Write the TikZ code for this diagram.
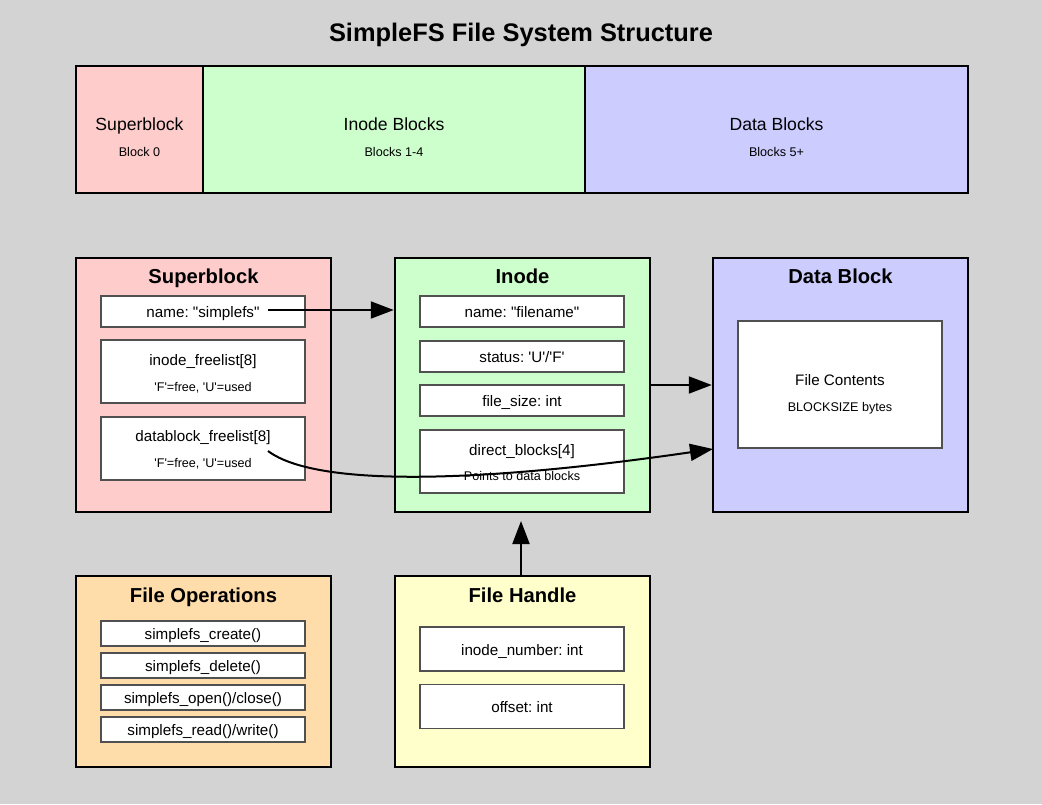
\documentclass[tikz,border=0pt]{standalone}
\usepackage{fontspec}
\setmainfont{Liberation Sans}[Ligatures=TeXOff]
\usetikzlibrary{arrows.meta}
\definecolor{bgc}{HTML}{D3D3D3}
\definecolor{pinkc}{HTML}{FFCCCC}
\definecolor{greenc}{HTML}{CCFFCC}
\definecolor{bluec}{HTML}{CCCCFF}
\definecolor{peachc}{HTML}{FFDDAA}
\definecolor{yellowc}{HTML}{FFFFCC}
\definecolor{fieldline}{HTML}{505050}
\frenchspacing
\begin{document}
\begin{tikzpicture}[x=1pt,y=-1pt,
  outer/.style={draw=black, line width=2.5pt, inner sep=0pt},
  field/.style={draw=fieldline, fill=white, line width=1.5pt, inner sep=0pt, minimum width=204pt},
  ttl/.style={font=\bfseries\fontsize{20.2}{24}\selectfont, inner sep=0pt, anchor=base, yshift=-7.2pt},
  maintitle/.style={font=\bfseries\fontsize{25.4}{30}\selectfont, inner sep=0pt, anchor=base, yshift=-9pt},
  toplbl/.style={font=\fontsize{17.6}{20}\selectfont, inner sep=0pt, anchor=base, yshift=-6.3pt},
  lbl/.style={font=\fontsize{15.2}{18}\selectfont, inner sep=0pt, anchor=base, yshift=-5.4pt},
  sml/.style={font=\fontsize{12.6}{15}\selectfont, inner sep=0pt, anchor=base, yshift=-4.5pt},
  arr/.style={line width=2pt, -{Triangle[length=23pt,width=17pt]}}]
\fill[bgc] (0,0) rectangle (1042,804);
\useasboundingbox (0,0) rectangle (1042,804);

% title
\node[maintitle] (title) at (521,32) {SimpleFS File System Structure};

% top bar
\node[outer, fill=pinkc, minimum width=127pt, minimum height=127pt] (tsb) at (139.5,129.5) {};
\node[outer, fill=greenc, minimum width=382pt, minimum height=127pt] (tib) at (394,129.5) {};
\node[outer, fill=bluec, minimum width=383pt, minimum height=127pt] (tdb) at (776.5,129.5) {};
\node[toplbl] (tsbl) at (139.5,124) {Superblock};
\node[sml] (tsbs) at (139.5,152) {Block 0};
\node[toplbl] (tibl) at (394,124) {Inode Blocks};
\node[sml] (tibs) at (394,152) {Blocks 1-4};
\node[toplbl] (tdbl) at (776.5,124) {Data Blocks};
\node[sml] (tdbs) at (776.5,152) {Blocks 5+};

% Superblock
\node[outer, fill=pinkc, minimum width=255pt, minimum height=254pt] (sb) at (203.5,385) {};
\node[ttl] (sbt) at (203.5,276) {Superblock};
\node[field, minimum height=31pt] (sbname) at (203,311.5) {};
\node[lbl] (sbnamet) at (203,312) {name: "simplefs"};
\node[field, minimum height=63pt] (sbifl) at (203,371.5) {};
\node[lbl] (sbiflt) at (203,360) {inode\_freelist[8]};
\node[sml] (sbifls) at (203,387) {'F'=free, 'U'=used};
\node[field, minimum height=63pt] (sbdfl) at (203,448.5) {};
\node[lbl] (sbdflt) at (203,436) {datablock\_freelist[8]};
\node[sml] (sbdfls) at (203,463) {'F'=free, 'U'=used};

% Inode
\node[outer, fill=greenc, minimum width=255pt, minimum height=254pt] (inode) at (522.5,385) {};
\node[ttl] (inodet) at (522.5,276) {Inode};
\node[field, minimum height=31pt] (inname) at (522,311.5) {};
\node[lbl] (innamet) at (522,312) {name: "filename"};
\node[field, minimum height=31pt] (instat) at (522,356.5) {};
\node[lbl] (instatt) at (522,357) {status: 'U'/'F'};
\node[field, minimum height=31pt] (insize) at (522,400.5) {};
\node[lbl] (insizet) at (522,401) {file\_size: int};
\node[field, minimum height=63pt] (indir) at (522,461.5) {};
\node[lbl] (indirt) at (522,450) {direct\_blocks[4]};
\node[sml] (indirs) at (522,476) {Points to data blocks};

% Data block
\node[outer, fill=bluec, minimum width=255pt, minimum height=254pt] (dblk) at (840.5,385) {};
\node[ttl] (dblkt) at (840.5,276) {Data Block};
\node[field, minimum height=127pt] (dcont) at (840,384.5) {};
\node[lbl] (dcontt) at (840,380) {File Contents};
\node[sml] (dconts) at (840,407) {BLOCKSIZE bytes};

% File operations
\node[outer, fill=peachc, minimum width=255pt, minimum height=191pt] (fo) at (203.5,671.5) {};
\node[ttl] (fot) at (203.5,595) {File Operations};
\node[field, minimum height=25pt] (fo1) at (203,633.5) {};
\node[lbl] (fo1t) at (203,634) {simplefs\_create()};
\node[field, minimum height=25pt] (fo2) at (203,665.5) {};
\node[lbl] (fo2t) at (203,666) {simplefs\_delete()};
\node[field, minimum height=25pt] (fo3) at (203,697.5) {};
\node[lbl] (fo3t) at (203,698) {simplefs\_open()/close()};
\node[field, minimum height=25pt] (fo4) at (203,729.5) {};
\node[lbl] (fo4t) at (203,730) {simplefs\_read()/write()};

% File handle
\node[outer, fill=yellowc, minimum width=255pt, minimum height=191pt] (fh) at (522.5,671.5) {};
\node[ttl] (fht) at (522.5,595) {File Handle};
\node[field, minimum height=44pt] (fh1) at (522,649) {};
\node[lbl] (fh1t) at (522,650) {inode\_number: int};
\node[field, minimum height=44pt] (fh2) at (522.2,706.5) {};
\node[lbl] (fh2t) at (522,707) {offset: int};

% connectors
\coordinate (a1s) at (268,310);
\coordinate (a2s) at (inode.east |- 0,385);
\coordinate (a3s) at (268,451);
\coordinate (a3e) at (713,449);
\coordinate (a4e) at (521,521);
\draw[arr] (a1s) -- (a1s -| inode.west);
\draw[arr] (a2s) -- (a2s -| dblk.west);
\draw[arr] (a3s) .. controls (320,490) and (500,480) .. (a3e);
\draw[arr] (fh.north -| a4e) -- (a4e);
\end{tikzpicture}
\end{document}
